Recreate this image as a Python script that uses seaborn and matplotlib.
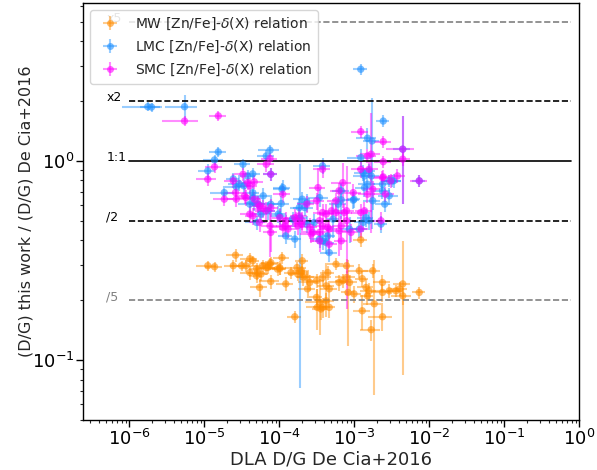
import numpy as np
import pandas as pd
import matplotlib
matplotlib.use("Agg")
import matplotlib.pyplot as plt
from matplotlib.lines import Line2D
import seaborn as sns

# ---------------- data (log10 values) ----------------
mw_logdg = [-4.58, -4.95, -4.86, -4.61, -4.50, -4.39, -4.35, -4.22, -4.17, -4.11,
            -4.29, -4.30, -4.11, -4.26, -3.99, -3.96, -3.91, -3.84, -3.76, -3.70,
            -3.69, -3.63, -3.59, -3.62, -3.79, -3.50, -3.42, -3.37, -3.33, -3.35,
            -3.24, -3.50, -3.46, -3.42, -3.37, -3.20, -3.15, -3.10, -3.06, -3.08,
            -3.10, -3.00, -2.93, -2.89, -2.84, -2.80, -2.82, -2.75, -2.73, -2.89,
            -2.77, -2.62, -2.62, -2.62, -2.53, -2.44, -2.39, -2.35, -2.35, -2.13,
            -2.91, -3.49, -3.44, -3.33, -4.44, -4.24, -4.30, -4.15, -4.12, -4.02,
            -3.99, -3.75, -3.70, -3.68, -4.39]
mw_logratio = [-0.473, -0.526, -0.531, -0.526, -0.526, -0.491, -0.501, -0.526, -0.535, -0.510,
               -0.560, -0.541, -0.605, -0.635, -0.541, -0.485, -0.617, -0.560, -0.535, -0.551,
               -0.501, -0.585, -0.610, -0.642, -0.782, -0.601, -0.585, -0.627, -0.642, -0.560,
               -0.518, -0.685, -0.710, -0.735, -0.702, -0.610, -0.601, -0.585, -0.610, -0.660,
               -0.526, -0.667, -0.551, -0.591, -0.635, -0.652, -0.677, -0.551, -0.717, -0.752,
               -0.847, -0.610, -0.660, -0.782, -0.652, -0.652, -0.642, -0.617, -0.677, -0.660,
               -0.396, -0.735, -0.743, -0.735, -0.526, -0.568, -0.576, -0.535, -0.518, -0.543,
               -0.535, -0.568, -0.560, -0.585, -0.560]
mw_dg_relerr = [0.25, 0.30, 0.25, 0.25, 0.30, 0.25, 0.20, 0.25, 0.30, 0.25,
                0.25, 0.20, 0.30, 0.25, 0.20, 0.25, 0.25, 0.20, 0.30, 0.25,
                0.20, 0.25, 0.30, 0.25, 0.20, 0.25, 0.30, 0.25, 0.25, 0.20,
                0.25, 0.20, 0.35, 0.25, 0.25, 0.25, 0.20, 0.30, 0.25, 0.20,
                0.25, 0.25, 0.30, 0.20, 0.25, 0.25, 0.20, 0.25, 0.30, 0.25,
                0.30, 0.25, 0.30, 0.35, 0.40, 0.25, 0.25, 0.25, 0.30, 0.20,
                0.20, 0.30, 0.25, 0.20, 0.25, 0.25, 0.20, 0.25, 0.25, 0.25,
                0.20, 0.25, 0.25, 0.20, 0.25]
mw_ratio_relerr = [0.08, 0.06, 0.06, 0.07, 0.06, 0.07, 0.06, 0.07, 0.08, 0.07,
                   0.08, 0.07, 0.08, 0.10, 0.07, 0.07, 0.08, 0.07, 0.07, 0.08,
                   0.08, 0.08, 0.09, 0.10, 0.07, 0.08, 0.09, 0.30, 0.10, 0.08,
                   0.07, 0.10, 0.31, 0.12, 0.10, 0.09, 0.08, 0.08, 0.09, 0.46,
                   0.08, 0.10, 0.08, 0.09, 0.10, 0.10, 0.10, 0.08, 0.65, 0.20,
                   0.12, 0.09, 0.10, 0.15, 0.08, 0.07, 0.08, 0.65, 0.10, 0.07,
                   0.08, 0.23, 0.12, 0.12, 0.07, 0.08, 0.08, 0.07, 0.07, 0.08,
                   0.08, 0.08, 0.08, 0.09, 0.08]

lmc_logdg = [-5.75, -5.70, -5.26, -4.81, -4.86, -4.95, -4.48, -4.12, -4.17, -4.61,
             -4.42, -4.35, -4.53, -4.11, -4.73, -4.57, -4.47, -4.35, -3.96, -4.11,
             -3.91, -3.99, -3.97, -4.30, -3.73, -3.69, -3.46, -3.42, -3.46, -3.42,
             -3.33, -3.17, -3.01, -2.86, -2.77, -2.82, -2.62, -2.53, -2.49, -2.75,
             -2.59, -3.21, -3.66, -3.82, -3.79, -3.63, -3.53, -3.35, -3.37, -3.28,
             -3.06, -2.93, -2.80, -2.91, -2.61, -2.82, -2.76, -2.91, -2.88, -2.80,
             -2.47, -2.35, -2.13, -2.62, -2.53, -3.00, -2.86, -2.84, -2.88, -2.64,
             -4.35, -4.39, -4.33, -4.28, -4.15, -4.24, -4.01, -3.63, -3.72, -3.95,
             -4.21, -3.17]
lmc_logratio = [0.272, 0.270, 0.272, 0.045, 0.005, -0.050, -0.017, 0.054, 0.025, -0.090,
                -0.075, -0.065, -0.115, -0.067, -0.159, -0.130, -0.125, -0.159, -0.142, -0.217,
                -0.376, -0.276, -0.214, -0.309, -0.234, -0.192, -0.184, -0.025, -0.392, -0.401,
                -0.460, -0.150, -0.197, -0.075, -0.075, -0.117, -0.117, -0.100, -0.100, -0.200,
                -0.217, -0.217, -0.234, -0.292, -0.392, -0.317, -0.309, -0.376, -0.410, -0.292,
                -0.342, -0.342, -0.300, 0.460, 0.200, 0.114, 0.100, 0.017, -0.059, -0.050,
                -0.100, 0.059, -0.100, -0.150, -0.175, -0.192, -0.134, -0.284, -0.309, -0.317,
                -0.184, -0.217, -0.209, -0.217, -0.250, -0.267, -0.267, -0.209, -0.286, -0.134,
                -0.175, -0.195]
lmc_dg_relerr = [0.55, 0.30, 0.45, 0.25, 0.30, 0.25, 0.25, 0.30, 0.25, 0.20,
                 0.25, 0.25, 0.30, 0.20, 0.35, 0.30, 0.25, 0.20, 0.25, 0.25,
                 0.20, 0.25, 0.25, 0.30, 0.25, 0.25, 0.30, 0.25, 0.25, 0.20,
                 0.25, 0.25, 0.20, 0.30, 0.25, 0.25, 0.25, 0.20, 0.30, 0.25,
                 0.25, 0.25, 0.30, 0.25, 0.20, 0.25, 0.30, 0.25, 0.25, 0.20,
                 0.25, 0.25, 0.20, 0.20, 0.20, 0.30, 0.25, 0.35, 0.25, 0.20,
                 0.25, 0.25, 0.20, 0.25, 0.30, 0.20, 0.25, 0.25, 0.25, 0.20,
                 0.25, 0.30, 0.25, 0.25, 0.25, 0.20, 0.25, 0.25, 0.25, 0.25,
                 0.30, 0.25]
lmc_ratio_relerr = [0.05, 0.05, 0.14, 0.06, 0.06, 0.08, 0.06, 0.06, 0.07, 0.07,
                    0.07, 0.07, 0.08, 0.07, 0.08, 0.08, 0.09, 0.08, 0.08, 0.08,
                    0.09, 0.10, 0.09, 0.08, 0.10, 0.09, 0.10, 0.09, 0.10, 0.10,
                    0.10, 0.09, 0.10, 0.08, 0.08, 0.09, 0.08, 0.07, 0.07, 0.10,
                    0.09, 0.10, 0.09, 0.09, 0.10, 0.10, 0.10, 0.10, 0.12, 0.20,
                    0.15, 0.10, 0.10, 0.06, 0.07, 0.12, 0.64, 0.10, 0.09, 0.08,
                    0.08, 0.47, 0.07, 0.09, 0.10, 0.10, 0.10, 0.10, 0.10, 0.10,
                    0.09, 0.10, 0.09, 0.10, 0.10, 0.10, 0.10, 0.10, 0.86, 0.09,
                    0.09, 0.20]

smc_logdg = [-5.26, -4.81, -4.86, -4.95, -4.17, -4.12, -4.11, -4.48, -4.42, -4.33,
             -4.61, -4.58, -4.57, -4.73, -4.46, -4.44, -4.33, -4.28, -4.22, -4.17,
             -4.11, -4.12, -4.11, -3.91, -3.95, -3.79, -3.75, -4.35, -3.63, -3.59,
             -3.57, -3.46, -3.42, -3.37, -3.35, -3.33, -3.24, -3.15, -3.48, -3.50,
             -3.01, -2.91, -2.80, -2.62, -2.42, -2.82, -2.58, -2.91, -2.86, -3.30,
             -3.24, -3.42, -3.73, -3.77, -3.70, -3.55, -3.46, -3.42, -3.33, -3.46,
             -3.17, -3.20, -3.17, -3.10, -3.04, -3.13, -2.91, -2.61, -2.82, -2.77,
             -2.61, -2.61, -2.51, -2.35, -2.35, -2.13, -2.75, -2.91, -2.64, -3.20,
             -3.95, -4.26, -4.39, -3.99, -3.92, -3.88, -3.69, -4.39, -4.26, -3.10]
smc_logratio = [0.200, 0.226, -0.030, -0.092, -0.017, 0.012, -0.067, -0.067, -0.109, -0.105,
                -0.100, -0.159, -0.192, -0.192, -0.175, -0.184, -0.192, -0.217, -0.239, -0.250,
                -0.234, -0.326, -0.359, -0.300, -0.334, -0.284, -0.326, -0.276, -0.217, -0.334,
                -0.367, -0.300, -0.042, -0.267, -0.334, -0.418, -0.200, -0.109, -0.134, -0.200,
                -0.159, -0.042, -0.042, -0.084, -0.075, -0.167, -0.167, -0.259, -0.250, -0.250,
                -0.259, -0.259, -0.276, -0.300, -0.317, -0.359, -0.359, -0.326, -0.342, -0.401,
                -0.326, -0.351, -0.401, -0.300, -0.359, -0.259, 0.147, 0.097, 0.025, 0.034,
                -0.004, -0.080, -0.100, 0.059, 0.009, -0.100, -0.142, -0.342, -0.300, -0.150,
                -0.167, -0.309, -0.267, -0.284, -0.326, -0.342, -0.300, -0.125, -0.226, -0.250]
smc_dg_relerr = [0.50, 0.25, 0.25, 0.30, 0.25, 0.25, 0.20, 0.25, 0.25, 0.30,
                 0.25, 0.30, 0.25, 0.30, 0.25, 0.25, 0.20, 0.25, 0.25, 0.30,
                 0.25, 0.25, 0.20, 0.25, 0.30, 0.25, 0.25, 0.20, 0.25, 0.25,
                 0.30, 0.25, 0.25, 0.25, 0.20, 0.25, 0.25, 0.30, 0.25, 0.25,
                 0.25, 0.25, 0.30, 0.25, 0.25, 0.25, 0.30, 0.25, 0.25, 0.20,
                 0.25, 0.25, 0.25, 0.20, 0.25, 0.25, 0.25, 0.20, 0.25, 0.25,
                 0.25, 0.25, 0.20, 0.25, 0.25, 0.25, 0.25, 0.25, 0.30, 0.30,
                 0.25, 0.25, 0.25, 0.40, 0.25, 0.25, 0.25, 0.25, 0.25, 0.25,
                 0.25, 0.25, 0.25, 0.20, 0.25, 0.25, 0.25, 0.25, 0.25, 0.25]
smc_ratio_relerr = [0.06, 0.06, 0.07, 0.08, 0.08, 0.07, 0.08, 0.08, 0.08, 0.08,
                    0.08, 0.09, 0.09, 0.08, 0.09, 0.09, 0.09, 0.10, 0.10, 0.10,
                    0.10, 0.30, 0.20, 0.10, 0.10, 0.10, 0.10, 0.10, 0.10, 0.12,
                    0.10, 0.10, 0.10, 0.12, 0.10, 0.12, 0.10, 0.25, 0.25, 0.10,
                    0.10, 0.10, 0.10, 0.08, 0.08, 0.10, 0.09, 0.10, 0.10, 0.10,
                    0.10, 0.10, 0.10, 0.10, 0.10, 0.10, 0.10, 0.10, 0.12, 0.12,
                    0.12, 0.25, 0.10, 0.12, 0.10, 0.10, 0.07, 0.07, 0.08, 0.60,
                    0.07, 0.08, 0.08, 0.47, 0.08, 0.07, 0.10, 0.10, 0.10, 0.10,
                    0.10, 0.10, 0.10, 0.10, 0.10, 0.10, 0.10, 0.10, 0.10, 0.68]

series_labels = [r"MW [Zn/Fe]-$\delta$(X) relation",
                 r"LMC [Zn/Fe]-$\delta$(X) relation",
                 r"SMC [Zn/Fe]-$\delta$(X) relation"]
series_colors = ["darkorange", "dodgerblue", "magenta"]

ref_values = [5.0, 2.0, 1.0, 0.5, 0.2]
ref_labels = ["x5", "x2", "1:1", "/2", "/5"]
ref_styles = ["--", "--", "-", "--", "--"]
ref_colors = ["grey", "black", "black", "black", "grey"]

# ---------------- figure ----------------
sns.set_style("ticks")
plt.rcParams["font.family"] = ["DejaVu Sans"]
plt.rcParams["mathtext.fontset"] = "dejavusans"

fig = plt.figure(figsize=(5.97, 4.70), dpi=100)
ax = fig.add_axes([0.1394, 0.106, 0.8304, 0.8876])

frames = []
for name, ldg, lr, ex, ey in [
    ("MW", mw_logdg, mw_logratio, mw_dg_relerr, mw_ratio_relerr),
    ("LMC", lmc_logdg, lmc_logratio, lmc_dg_relerr, lmc_ratio_relerr),
    ("SMC", smc_logdg, smc_logratio, smc_dg_relerr, smc_ratio_relerr),
]:
    d = pd.DataFrame({"dg": 10 ** np.array(ldg), "ratio": 10 ** np.array(lr),
                      "ex": ex, "ey": ey})
    d["xerr"] = d["ex"] * d["dg"]
    d["yerr"] = d["ey"] * d["ratio"]
    d["rel"] = name
    frames.append(d)

handles = []
for d, lab, col in zip(frames, series_labels, series_colors):
    eb = ax.errorbar(d["dg"], d["ratio"], xerr=d["xerr"], yerr=d["yerr"],
                     fmt="none", ecolor=col, elinewidth=1.5, alpha=0.45, capsize=0)
    sns.scatterplot(data=d, x="dg", y="ratio", ax=ax, color=col, s=28,
                    alpha=0.6, edgecolor="none", legend=False, zorder=3)
    mk = Line2D([], [], marker="o", ls="none", color=col, alpha=0.6, ms=5, mew=0)
    handles.append((eb, mk))

ax.set_xscale("log")
ax.set_yscale("log")
ax.set_xlim(2.45e-7, 1.0)
ax.set_ylim(0.05, 6.2)

for v, lab, ls, c in zip(ref_values, ref_labels, ref_styles, ref_colors):
    ax.plot([1e-6, 0.78], [v, v], ls=ls, color=c, lw=1.2, zorder=2)
    ax.text(5.0e-7, v, lab, fontsize=9, color=c, ha="left", va="baseline")

ax.set_xlabel("DLA D/G De Cia+2016", fontsize=13, labelpad=1)
ax.set_ylabel("(D/G) this work / (D/G) De Cia+2016", fontsize=11.5, labelpad=-1)
ax.tick_params(axis="both", which="major", labelsize=13, length=5, width=1,
               colors="black", pad=1.5)
ax.tick_params(axis="both", which="minor", length=2.5, width=0.8)
for sp in ax.spines.values():
    sp.set_color("black")
    sp.set_linewidth(1.0)

ax.legend(handles, series_labels, loc="upper left", fontsize=10, framealpha=0.8)

fig.savefig("out.png", dpi=100)
